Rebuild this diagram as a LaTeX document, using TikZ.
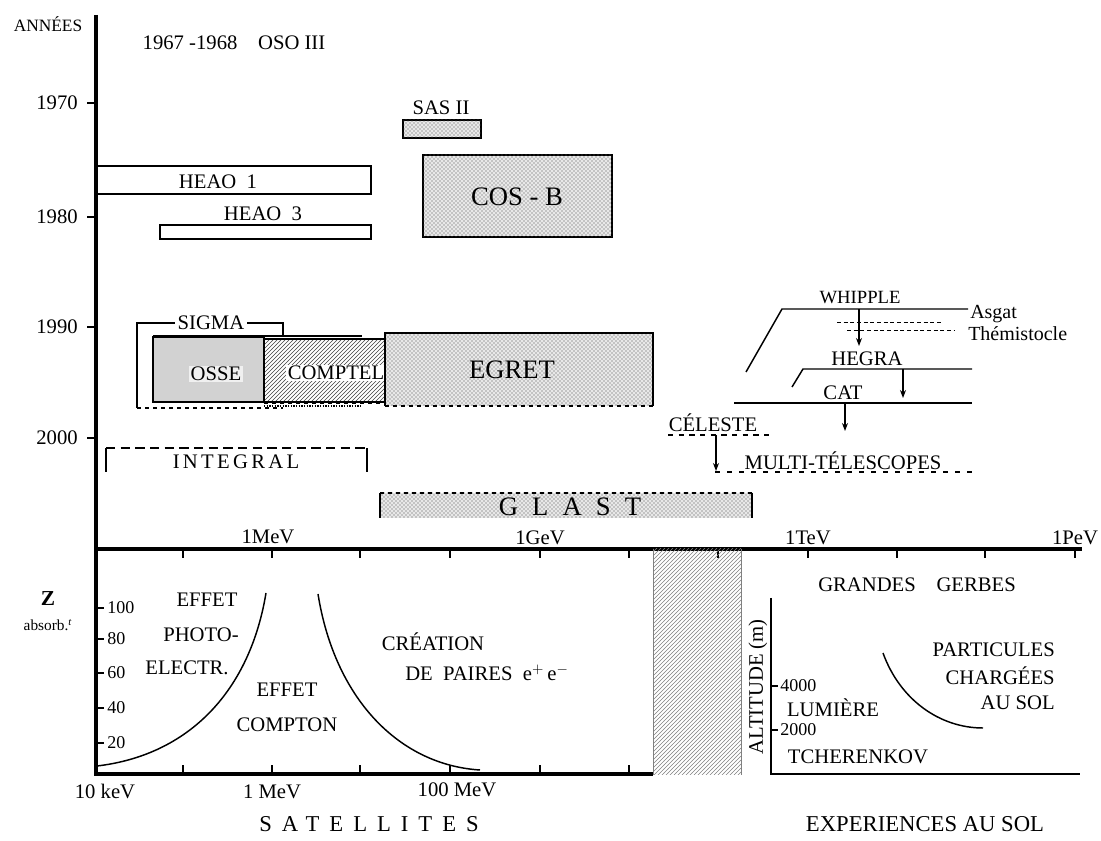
\documentclass[tikz,border=0pt]{standalone}
\usepackage{fontspec}
\setmainfont{Liberation Serif}
\usetikzlibrary{patterns,arrows.meta}

\tikzset{
	axe/.style={line width=3pt},
	cadre/.style={line width=1pt},
	trait/.style={line width=1.1pt},
	lbl/.style={inner sep=0pt, font=\fontsize{15.5}{15.5}\selectfont},
	petit/.style={inner sep=0pt, font=\fontsize{13}{13}\selectfont},
	chiffre/.style={inner sep=0pt, anchor=west, font=\fontsize{13.5}{13.5}\selectfont},
	grand/.style={inner sep=0pt, font=\fontsize{20}{20}\selectfont},
	titre/.style={inner sep=0pt, font=\fontsize{17}{17}\selectfont},
	annee/.style={inner sep=0pt, anchor=east, font=\fontsize{15.5}{15.5}\selectfont},
	points/.style={fill=gray!18, postaction={pattern=crosshatch dots, pattern color=black!70}},
	raies/.style={pattern=north east lines, pattern color=black!75},
	tirets/.style={dash pattern=on 3pt off 2pt},
}

\begin{document}
\begin{tikzpicture}[x=0.75pt, y=-0.75pt, >={Stealth[length=6pt, width=4.5pt]}]
	\useasboundingbox (0, 0) rectangle (1101, 841);
	%Axes
		\draw [axe] (96, 15) -- (96, 774) -- (653, 774);
		\draw [axe] (94, 549) -- (1082, 549);
		%Ticks on the energy line
		\foreach \x in {183, 272, 360, 450, 540, 629, 718, 808, 897, 985, 1075}
			\draw [thick] (\x, 549) -- (\x, 558);
		\foreach \x in {183, 272, 360, 450, 540, 629}
			\draw [thick] (\x, 774) -- (\x, 765);
	%Years
		\node [petit] (annees) at (48, 24) {ANNÉES};
		\foreach \y/\an in {103/1970, 217/1980, 327/1990, 438/2000} {
			\draw [thick] (87, \y) -- (96, \y);
			\node [annee] (a\an) at (78, \y) {\an};
		}
		\node [lbl] (oso) at (234, 43) {1967 -1968\quad OSO III};
	%Energies
		\node [lbl] (mev) at (268, 537) {1MeV};
		\node [lbl] (gev) at (540, 538) {1GeV};
		\node [lbl] (tev) at (808, 538) {1TeV};
		\node [lbl] (pev) at (1075, 538) {1PeV};
	%HEAO
		\draw [cadre] (96, 166) rectangle (371, 194);
		\node [lbl] (heaoa) at (218, 182) {HEAO\ \ 1};
		\draw [cadre] (160, 225) rectangle (371, 239);
		\node [lbl] (heaoc) at (263, 214) {HEAO\ \ 3};
	%SAS II and COS-B
		\draw [cadre, points] (403, 120) rectangle (481, 138);
		\node [lbl] (sas) at (441, 108) {SAS II};
		\draw [cadre, points] (423, 155) rectangle (612, 237);
		\node [grand] (cosb) at (517, 197) {COS - B};
	%SIGMA
		\draw [cadre] (137, 408) -- (137, 323) -- (283, 323) -- (283, 336);
		\draw [cadre, dashed] (137, 408) -- (283, 408);
		\node [lbl, fill=white, inner sep=2pt] (sigma) at (211, 323) {SIGMA};
		\draw [cadre] (153, 336) -- (362, 336);
		\draw [cadre, densely dotted] (264, 406) -- (362, 406);
	%OSSE
		\draw [cadre, fill=gray!35] (153, 337) rectangle (264, 402);
		\node [lbl, fill=gray!12, inner sep=1pt] (osse) at (216, 374) {OSSE};
	%COMPTEL
		\draw [cadre, raies] (264, 339) rectangle (407, 402);
		\draw [cadre, dashed] (264, 403) -- (407, 403);
		\node [lbl, fill=white, inner sep=1pt] (comptel) at (336, 373) {COMPTEL};
	%EGRET
		\fill [points] (385, 333) rectangle (653, 406);
		\draw [cadre] (385, 406) -- (385, 333) -- (653, 333) -- (653, 406);
		\draw [cadre, dashed] (385, 406) -- (653, 406);
		\node [grand] (egret) at (512, 370) {EGRET};
	%INTEGRAL
		\draw [cadre] (106, 472) -- (106, 448);
		\draw [cadre] (367, 472) -- (367, 448);
		\draw [cadre, dash pattern=on 7pt off 4pt] (106, 448) -- (367, 448);
		\node [lbl] (integral) at (236, 462) {\addfontfeature{LetterSpace=16}INTEGRAL};
	%GLAST
		\fill [points] (380, 493) rectangle (752, 518);
		\draw [cadre] (380, 518) -- (380, 493);
		\draw [cadre] (752, 518) -- (752, 493);
		\draw [cadre, dashed] (380, 493) -- (752, 493);
		\node [grand] (glast) at (570, 507) {\addfontfeature{LetterSpace=53}GLAST};
	%Ground telescopes
		%WHIPPLE
		\draw [trait] (746, 372) -- (782, 309) -- (968, 309);
		\node [petit, font=\fontsize{14}{14}\selectfont] (whipple) at (860, 298) {WHIPPLE};
		\coordinate (whip) at (859, 309);
		\coordinate (whipbas) at (859, 346);
		\draw [thick, ->] (whip) -- (whipbas);
		%Asgat and Themistocle
		\draw [tirets] (837, 322) -- (942, 322);
		\node [lbl, anchor=west, font=\fontsize{15}{15}\selectfont] (asgat) at (970, 314) {Asgat};
		\draw [tirets] (847, 330) -- (955, 330);
		\node [lbl, anchor=west, font=\fontsize{15}{15}\selectfont] (themis) at (968, 334) {Thémistocle};
		%HEGRA
		\draw [trait] (792, 387) -- (803, 369) -- (972, 369);
		\node [lbl] (hegra) at (867, 359) {HEGRA};
		\coordinate (heg) at (903, 369);
		\coordinate (hegbas) at (903, 398);
		\draw [thick, ->] (heg) -- (hegbas);
		%CAT
		\draw [trait] (734, 403) -- (972, 403);
		\node [lbl] (cat) at (843, 393) {CAT};
		\coordinate (ca) at (845, 403);
		\coordinate (cabas) at (845, 431);
		\draw [thick, ->] (ca) -- (cabas);
		%CELESTE
		\draw [thick, dash pattern=on 4pt off 4pt] (668, 435) -- (772, 435);
		\node [lbl] (celeste) at (713, 423) {CÉLESTE};
		\coordinate (cel) at (716, 435);
		\coordinate (celbas) at (716, 471);
		\draw [thick, ->] (cel) -- (celbas);
		%MULTI-TELESCOPES
		\draw [thick, dash pattern=on 4pt off 5pt] (715, 472) -- (973, 472);
		\node [lbl] (multi) at (843, 461) {MULTI-TÉLESCOPES};
	%Bottom left: absorption
		\node [lbl, font=\bfseries\fontsize{16}{16}\selectfont] (z) at (48, 599) {Z};
		\node [petit, font=\fontsize{11.5}{11.5}\selectfont] (absorb) at (48, 625) {absorb.\textsuperscript{\textit{t}}};
		\foreach \y/\zz in {608/100, 639/80, 673/60, 708/40, 743/20} {
			\draw [thick] (97, \y) -- (104, \y);
			\node [chiffre] (z\zz) at (107, \y) {\zz};
		}
		\draw [trait] (97, 766) .. controls (190, 755) and (250, 690) .. (266, 593);
		\draw [trait] (318, 594) .. controls (335, 700) and (400, 765) .. (480, 770);
		\node [lbl] (effeta) at (207, 600) {EFFET};
		\node [lbl] (photo) at (201, 635) {PHOTO-};
		\node [lbl] (electr) at (187, 668) {ELECTR.};
		\node [lbl] (effetb) at (287, 690) {EFFET};
		\node [lbl] (compton) at (287, 725) {COMPTON};
		\node [lbl] (creation) at (433, 642) {CRÉATION};
		\node [lbl] (paires) at (487, 673) {DE\ \ PAIRES\ \ e$^+$\,e$^-$};
		\node [lbl, anchor=base] (kev) at (105, 798) {10 keV};
		\node [lbl, anchor=base] (mevb) at (272, 798) {1 MeV};
		\node [lbl, anchor=base] (cmev) at (457, 797) {100 MeV};
	%Hatched gap
		\fill [pattern=north east lines, pattern color=gray] (653, 549) rectangle (741, 775);
		\draw [gray] (653, 549) -- (653, 775);
		\draw [gray] (741, 549) -- (741, 775);
	%Bottom right: air showers
		\draw [trait] (771, 598) -- (771, 774) -- (1080, 774);
		\draw [thick] (771, 686) -- (778, 686);
		\draw [thick] (771, 730) -- (778, 730);
		\node [chiffre] (alt4) at (780, 686) {4000};
		\node [chiffre] (alt2) at (780, 730) {2000};
		\node [lbl, rotate=90] (altitude) at (758, 687) {ALTITUDE\ (m)};
		\node [lbl] (gerbes) at (917, 585) {GRANDES\quad GERBES};
		\node [lbl] (lumiere) at (833, 708) {LUMIÈRE};
		\node [lbl] (tcher) at (858, 757) {TCHERENKOV};
		\node [lbl, anchor=east] (particules) at (1055, 650) {PARTICULES};
		\node [lbl, anchor=east] (chargees) at (1055, 676) {CHARGÉES};
		\node [lbl, anchor=east] (ausol) at (1055, 703) {AU SOL};
		\draw [trait] (883, 653) .. controls (900, 700) and (940, 728) .. (983, 728);
	%Titles
		\node [titre, anchor=base] (satellites) at (369, 831) {\addfontfeature{LetterSpace=44}SATELLITES};
		\node [titre, anchor=base] (sol) at (925, 831) {EXPERIENCES AU SOL};
\end{tikzpicture}
\end{document}
